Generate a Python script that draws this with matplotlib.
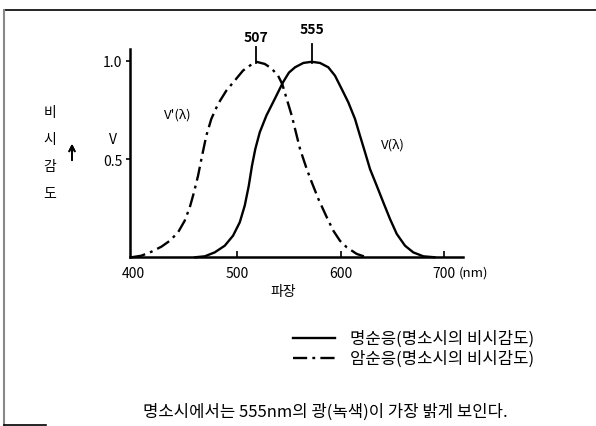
import matplotlib
matplotlib.use("Agg")
import matplotlib.pyplot as plt
from matplotlib.lines import Line2D

plt.rcParams['font.family'] = ['Noto Sans CJK KR', 'DejaVu Sans']

# ---- data ----
photopic_nm = [459.0, 468.7, 478.3, 488.0, 496.0, 502.5, 507.3, 511.2, 514.3, 517.5,
               521.8, 528.2, 536.3, 544.3, 550.0, 555.9, 563.9, 572.0, 580.0, 588.0,
               594.5, 601.0, 607.3, 613.8, 618.6, 623.5, 628.3, 634.8, 641.1, 647.6,
               654.1, 662.1, 670.1, 679.8, 691.1]
photopic_v = [0.0, 0.005, 0.025, 0.059, 0.110, 0.178, 0.263, 0.364, 0.466, 0.551,
              0.636, 0.721, 0.806, 0.891, 0.940, 0.967, 0.989, 0.995, 0.989, 0.967,
              0.924, 0.856, 0.789, 0.704, 0.619, 0.534, 0.449, 0.364, 0.280, 0.195,
              0.119, 0.059, 0.025, 0.005, 0.0]

scotopic_nm = [397.8, 407.4, 417.1, 426.8, 434.9, 442.9, 449.3, 454.2, 458.3, 462.2,
               466.1, 470.2, 475.0, 481.5, 489.5, 497.6, 505.6, 512.1, 518.5, 526.6,
               533.0, 539.5, 543.5, 552.7, 560.7, 567.2, 572.0, 578.4, 586.5, 592.9,
               599.3, 605.8, 615.5, 625.1]
scotopic_v = [0.0, 0.008, 0.028, 0.054, 0.084, 0.127, 0.186, 0.254, 0.331, 0.415,
              0.517, 0.619, 0.704, 0.780, 0.848, 0.899, 0.950, 0.975, 0.995, 0.984,
              0.962, 0.924, 0.882, 0.721, 0.551, 0.449, 0.382, 0.297, 0.204, 0.135,
              0.084, 0.051, 0.017, 0.0]

x_ticks = [400, 500, 600, 700]
x_tick_labels = ['400', '500', '600', '700']
y_ticks = [0.5, 1.0]
y_tick_labels = ['0.5', '1.0']
peak_labels = ['507', '555']
legend_labels = ['명순응(명소시의 비시감도)', '암순응(명소시의 비시감도)']
caption = '명소시에서는 555nm의 광(녹색)이 가장 밝게 보인다.'

W, H = 596, 427
fig = plt.figure(figsize=(W / 100, H / 100), dpi=100)
fig.patch.set_facecolor('white')


def fx(x):
    return x / W


def fy(y):
    return 1 - y / H


ax = fig.add_axes([fx(129.5), fy(258.3), fx(463) - fx(129.5), fy(50) - fy(258.3)])
ax.set_xlim(396.0, 718.1)
ax.set_ylim(0, 1.06)
for s in ['top', 'right']:
    ax.spines[s].set_visible(False)
for s in ['left', 'bottom']:
    ax.spines[s].set_linewidth(1.8)
    ax.spines[s].set_color('black')

DASHDOT = (0, (6, 2.2, 1.2, 2.2))
ax.plot(photopic_nm, photopic_v, color='black', lw=1.7, solid_capstyle='round',
        solid_joinstyle='round', clip_on=False)
ax.plot(scotopic_nm, scotopic_v, color='black', lw=1.7, linestyle=DASHDOT, clip_on=False)

ax.set_xticks(x_ticks)
ax.set_xticklabels(x_tick_labels)
ax.set_yticks(y_ticks)
ax.set_yticklabels(y_tick_labels)
ax.tick_params(axis='x', direction='in', length=4, width=1.2, pad=6, labelsize=10)
ax.tick_params(axis='y', direction='out', length=3, width=1.2, pad=2, labelsize=10)
ax.xaxis.get_major_ticks()[0].tick1line.set_visible(False)

# peak markers
peaks = [(scotopic_nm[scotopic_v.index(max(scotopic_v))], 1.07, 1.12, peak_labels[0]),
         (photopic_nm[photopic_v.index(max(photopic_v))], 1.085, 1.16, peak_labels[1])]
for xp, ytop, ytxt, lab in peaks:
    ax.plot([xp, xp], [0.99, ytop], color='black', lw=1.3, clip_on=False)
    ax.text(xp, ytxt, lab, ha='center', va='center', fontsize=10, fontweight='bold',
            clip_on=False)

# in-chart labels
fig.text(fx(178), fy(115), "V'(λ)", ha='center', va='center', fontsize=9.5)
fig.text(fx(393), fy(145), "V(λ)", ha='center', va='center', fontsize=9.5)
fig.text(fx(113), fy(140), "V", ha='center', va='center', fontsize=10)
fig.text(fx(473), fy(273), "(nm)", ha='center', va='center', fontsize=9.5)
fig.text(fx(283), fy(292), "파장", ha='center', va='center', fontsize=10)

for ch, yy in zip(['비', '시', '감', '도'], [113, 140, 167, 194]):
    fig.text(fx(50), fy(yy), ch, ha='center', va='center', fontsize=10)
fig.add_artist(plt.annotate('', xy=(fx(72), fy(142)), xytext=(fx(72), fy(164)),
                            xycoords='figure fraction', textcoords='figure fraction',
                            arrowprops=dict(arrowstyle='->', lw=1.3, color='black')))

# legend
for i, (lab, ls) in enumerate(zip(legend_labels, ['-', DASHDOT])):
    yy = 339 + 20 * i
    fig.add_artist(Line2D([fx(293), fx(335)], [fy(yy), fy(yy)], color='black', lw=1.7,
                          linestyle=ls))
    fig.text(fx(350), fy(yy), lab, ha='left', va='center', fontsize=12)

fig.text(fx(143), fy(412), caption, ha='left', va='center', fontsize=12)

# frame of the scanned figure
fig.add_artist(Line2D([fx(4), fx(596)], [fy(11), fy(11)], color='black', lw=1.2))
fig.add_artist(Line2D([fx(4), fx(4)], [fy(11), fy(426)], color='#888888', lw=1.5))
fig.add_artist(Line2D([fx(4), fx(46)], [fy(425.5), fy(425.5)], color='black', lw=1.2))

fig.savefig('out.png', dpi=100, facecolor='white')
